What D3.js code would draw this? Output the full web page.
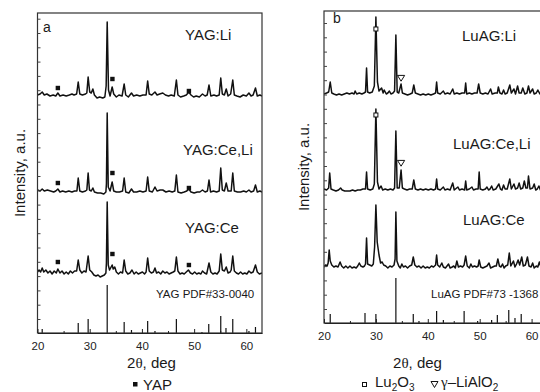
<!DOCTYPE html>
<html>
<head>
<meta charset="utf-8">
<script src="https://cdn.jsdelivr.net/npm/d3@7"></script>
<style>
  body { margin: 0; background: #fff; }
  svg { display: block; font-family: "Liberation Sans", Arial, sans-serif; }
</style>
</head>
<body>
<script>
// ---- data: [2theta, intensity above the trace baseline] ----
const xTicks = [20, 30, 40, 50, 60];
const xMinorTicks = [25, 35, 45, 55];

// panel a: YAG
const yagLi = [[20.0,1],[20.5,2],[20.9,4],[21.3,1],[21.8,2],[22.4,0],[23.0,1],[23.5,0],[23.9,3],[24.3,0],[24.9,1],[25.5,0],[26.1,1],[26.6,2],[27.0,1],[27.5,2],[27.8,14],[28.1,2],[28.6,1],[29.2,2],[29.45,3],[29.7,19],[30.0,4],[30.3,3],[30.6,7],[30.9,1],[31.4,-2],[31.9,-1],[32.5,-2],[32.9,-1],[33.15,10],[33.35,74],[33.6,6],[33.9,0],[34.3,9],[34.6,2],[35.1,-1],[35.6,1],[36.2,0],[36.6,12],[36.9,1],[37.4,-1],[38.0,3],[38.4,0],[39.0,1],[39.6,0],[40.2,1],[40.8,1],[41.1,15],[41.4,2],[41.9,1],[42.5,4],[42.9,1],[43.4,2],[44.0,3],[44.5,1],[45.1,0],[45.6,1],[46.2,0],[46.6,16],[46.9,1],[47.4,-1],[48.0,0],[48.5,1],[49.0,4],[49.4,1],[49.9,-1],[50.4,0],[51.0,-1],[51.6,2],[52.1,0],[52.5,1],[52.85,11],[53.2,0],[53.8,1],[54.3,0],[54.8,1],[55.1,18],[55.4,2],[55.8,1],[56.15,7],[56.5,0],[57.0,2],[57.4,16],[57.7,1],[58.2,0],[58.8,-1],[59.4,1],[60.0,0],[60.5,3],[60.9,0],[61.3,1],[61.75,8],[62.1,0],[62.6,1],[63.0,0]];
const yagCeLi = [[20.0,2],[20.5,1],[20.9,3],[21.3,1],[21.9,2],[22.5,1],[23.1,0],[23.5,1],[23.9,3],[24.3,0],[24.8,1],[25.4,0],[26.0,1],[26.6,0],[27.1,1],[27.55,1],[27.8,14],[28.1,1],[28.6,0],[29.2,1],[29.45,2],[29.7,19],[29.95,2],[30.3,1],[30.6,4],[30.9,0],[31.5,-1],[32.1,-1],[32.7,-2],[33.1,0],[33.2,8],[33.35,79],[33.55,5],[33.9,1],[34.3,10],[34.6,1],[35.1,0],[35.7,0],[36.3,1],[36.6,14],[36.9,0],[37.5,-1],[38.0,3],[38.4,0],[39.0,0],[39.6,1],[40.2,0],[40.8,1],[41.1,15],[41.4,1],[42.0,0],[42.5,5],[42.9,1],[43.5,2],[44.0,2],[44.6,0],[45.2,1],[45.8,0],[46.3,1],[46.6,17],[46.9,0],[47.5,-1],[48.1,0],[48.6,1],[49.0,3],[49.4,0],[50.0,-1],[50.6,0],[51.1,0],[51.6,2],[52.1,0],[52.55,1],[52.85,12],[53.15,0],[53.7,1],[54.3,0],[54.8,1],[55.1,24],[55.4,2],[55.8,1],[56.15,9],[56.5,1],[57.1,1],[57.4,19],[57.7,1],[58.3,0],[58.9,0],[59.5,1],[60.0,0],[60.5,2],[60.9,0],[61.4,1],[61.75,7],[62.1,0],[62.6,1],[63.0,0]];
const yagCe = [[20.0,1],[20.3,3],[20.6,1],[20.9,5],[21.2,1],[21.6,3],[22.0,0],[22.4,2],[22.8,-1],[23.2,2],[23.6,0],[23.9,4],[24.3,0],[24.7,2],[25.1,-1],[25.5,1],[25.9,-1],[26.3,2],[26.7,0],[27.1,2],[27.5,2],[27.8,13],[28.1,3],[28.5,0],[28.9,2],[29.3,1],[29.7,17],[30.0,3],[30.4,1],[30.8,-2],[31.2,-3],[31.6,-2],[32.0,-4],[32.4,-3],[32.8,-2],[33.1,0],[33.2,10],[33.35,71],[33.55,8],[33.8,3],[34.3,8],[34.5,4],[34.8,6],[35.1,1],[35.5,-1],[35.9,1],[36.3,0],[36.6,13],[36.9,2],[37.3,-1],[37.7,0],[38.1,3],[38.5,-1],[38.9,1],[39.3,-1],[39.7,0],[40.1,1],[40.5,-1],[40.8,1],[41.1,15],[41.4,2],[41.8,0],[42.2,1],[42.5,5],[42.8,0],[43.2,1],[43.6,-1],[44.0,2],[44.4,0],[44.8,1],[45.2,-1],[45.6,0],[46.0,1],[46.3,2],[46.6,16],[46.9,2],[47.3,-1],[47.7,0],[48.1,-1],[48.5,1],[48.9,3],[49.3,0],[49.7,-1],[50.1,1],[50.5,-1],[50.9,0],[51.3,-1],[51.6,2],[52.0,0],[52.4,-1],[52.85,10],[53.2,1],[53.6,-1],[54.0,0],[54.4,-1],[54.8,2],[55.1,19],[55.4,3],[55.8,2],[56.15,6],[56.5,0],[56.9,1],[57.1,3],[57.4,17],[57.7,2],[58.1,0],[58.5,-1],[58.9,1],[59.3,-1],[59.7,0],[60.1,-1],[60.5,2],[60.9,0],[61.3,1],[61.75,8],[62.1,1],[62.5,-1],[63.0,0]];
const yagPdf = [[20.9,4],[27.8,10],[29.7,14],[33.35,48],[36.6,11],[38.0,3],[41.1,12],[42.5,2],[46.6,14],[51.5,1],[52.8,9],[55.1,17],[56.1,5],[57.4,14],[60.5,2],[61.75,6]];
// YAP marker positions (filled squares)
const yagLiYap = [[23.9,8],[34.35,17],[49.0,5]];
const yagCeLiYap = [[23.9,9],[34.35,19],[49.0,4]];
const yagCeYap = [[23.9,11],[34.35,19],[49.0,8]];

// panel b: LuAG
const luagLi = [[20.0,0],[20.5,1],[20.9,2],[21.2,12],[21.5,1],[21.9,0],[22.4,-1],[22.9,0],[23.4,-1],[23.9,0],[24.4,1],[24.9,0],[25.4,1],[25.8,0],[26.0,3],[26.3,0],[26.8,1],[27.3,0],[27.7,1],[28.0,2],[28.2,26],[28.4,2],[28.8,1],[29.3,2],[29.7,8],[30.0,77],[30.3,12],[30.6,3],[31.1,6],[31.4,1],[31.6,4],[32.0,0],[32.3,1],[32.6,3],[32.9,0],[33.3,1],[33.6,3],[33.85,59],[34.1,2],[34.4,1],[34.85,10],[35.1,1],[35.6,0],[36.1,-1],[36.6,0],[37.0,1],[37.3,9],[37.6,1],[38.1,0],[38.6,-1],[39.1,0],[39.6,-1],[40.1,0],[40.6,-1],[41.1,0],[41.5,1],[41.7,12],[41.9,1],[42.4,0],[43.0,3],[43.3,0],[43.8,1],[44.3,0],[44.8,5],[45.1,0],[45.6,1],[46.1,0],[46.6,1],[47.1,1],[47.3,11],[47.5,0],[48.0,1],[48.5,0],[49.0,1],[49.5,1],[49.8,10],[50.1,1],[50.6,0],[51.1,1],[51.6,0],[52.1,5],[52.4,0],[53.0,1],[53.4,1],[53.6,7],[53.9,1],[54.3,0],[54.6,4],[54.9,0],[55.3,1],[55.8,9],[56.1,1],[56.6,5],[56.9,0],[57.3,8],[57.6,1],[58.0,1],[58.3,6],[58.7,0],[59.1,1],[59.4,8],[59.7,1],[60.2,5],[60.5,0],[60.9,1],[61.2,4],[61.6,0],[62.0,1],[62.3,6],[62.6,0],[63.2,1]];
const luagCeLi = [[20.0,1],[20.5,0],[20.9,2],[21.1,17],[21.35,1],[21.8,0],[22.3,-1],[22.8,0],[23.2,2],[23.5,0],[24.0,-1],[24.5,-1],[25.0,-1],[25.5,0],[26.0,-1],[26.5,0],[27.0,0],[27.5,1],[28.0,1],[28.2,18],[28.4,1],[28.9,0],[29.4,1],[29.7,6],[30.0,81],[30.3,8],[30.6,1],[31.0,4],[31.3,0],[31.8,1],[32.3,0],[32.8,1],[33.3,0],[33.6,2],[33.85,59],[34.1,2],[34.5,2],[34.85,20],[35.1,2],[35.5,1],[36.0,0],[36.5,1],[37.0,1],[37.3,10],[37.6,1],[38.1,0],[38.6,1],[39.1,0],[39.6,1],[40.1,0],[40.6,1],[41.1,0],[41.5,1],[41.7,11],[41.9,1],[42.4,0],[43.0,3],[43.3,0],[43.8,1],[44.3,0],[44.8,7],[45.1,0],[45.8,3],[46.1,0],[46.6,1],[47.1,0],[47.3,9],[47.5,0],[48.0,1],[48.5,3],[48.8,0],[49.3,1],[49.7,1],[49.9,18],[50.1,1],[50.6,0],[51.1,1],[51.4,3],[51.7,0],[52.0,1],[52.3,4],[52.6,0],[53.1,1],[53.7,6],[54.0,1],[54.3,0],[54.6,5],[54.9,1],[55.3,1],[55.8,11],[56.1,1],[56.6,6],[56.9,1],[57.3,2],[57.6,7],[57.9,1],[58.3,2],[58.6,9],[58.9,2],[59.2,2],[59.4,14],[59.7,1],[60.2,2],[60.5,6],[60.8,0],[61.1,1],[61.4,4],[61.7,0],[62.1,1],[62.4,5],[62.7,0],[63.2,1]];
const luagCe = [[20.0,0],[20.3,2],[20.6,1],[20.8,4],[21.0,17],[21.2,6],[21.5,2],[21.9,0],[22.3,1],[22.7,0],[23.1,5],[23.4,1],[23.8,-1],[24.2,1],[24.6,-1],[25.0,1],[25.4,-1],[25.8,0],[26.2,-1],[26.5,1],[26.8,4],[27.1,1],[27.5,0],[27.8,1],[28.0,3],[28.2,29],[28.4,3],[28.8,2],[29.2,1],[29.5,3],[29.75,20],[30.0,62],[30.25,25],[30.6,12],[30.9,4],[31.2,5],[31.5,2],[31.9,1],[32.3,-1],[32.7,1],[33.1,0],[33.5,2],[33.7,8],[33.85,55],[34.05,6],[34.4,1],[34.7,-1],[35.0,3],[35.3,0],[35.7,1],[36.1,-1],[36.5,1],[36.9,2],[37.2,10],[37.5,2],[37.9,0],[38.3,1],[38.7,-1],[39.1,1],[39.5,-1],[39.9,0],[40.3,-1],[40.7,1],[41.1,0],[41.5,2],[41.7,12],[41.9,2],[42.3,0],[42.7,4],[43.0,0],[43.4,-1],[43.7,1],[44.0,3],[44.3,-1],[44.7,0],[45.0,1],[45.3,-1],[45.6,6],[45.9,0],[46.3,1],[46.7,0],[47.0,2],[47.3,11],[47.6,1],[48.0,-1],[48.3,3],[48.6,0],[49.0,1],[49.4,0],[49.7,1],[49.9,7],[50.2,0],[50.6,-1],[51.0,0],[51.4,1],[51.8,4],[52.1,-1],[52.5,0],[52.9,1],[53.2,1],[53.5,8],[53.8,1],[54.1,0],[54.4,3],[54.7,-1],[55.0,1],[55.4,2],[55.7,14],[56.0,1],[56.2,3],[56.5,6],[56.8,0],[57.1,3],[57.4,7],[57.7,2],[58.1,10],[58.4,1],[58.8,2],[59.2,10],[59.5,1],[59.9,0],[60.2,4],[60.5,-1],[60.9,1],[61.2,0],[61.5,5],[61.8,0],[62.2,1],[62.5,4],[62.8,0],[63.2,1]];
const luagPdf = [[21.2,9],[27.9,10],[30.0,9],[33.85,45],[37.2,9],[38.3,2],[41.7,12],[43.0,3],[47.0,12],[49.6,2],[52.3,3],[53.4,8],[55.6,13],[56.8,5],[58.0,9]];
// Lu2O3 (open square) and gamma-LiAlO2 (open triangle) markers
const luagLiLu2o3 = [[30.0,65]];
const luagLiLialo2 = [[34.85,16]];
const luagCeLiLu2o3 = [[30.0,75]];
const luagCeLiLialo2 = [[34.85,27]];

const svg = d3.select('body').append('svg')
  .attr('width', 540)
  .attr('height', 392);

function drawPanel(p) {
  const x = d3.scaleLinear().domain(p.xDomain).range([p.left, p.right]);
  const y = d3.scaleLinear().domain(p.yDomain).range([p.bottom, p.top]);
  const g = svg.append('g');

  const clipId = 'clip-' + p.name;
  g.append('clipPath').attr('id', clipId)
    .append('rect')
    .attr('x', p.left).attr('y', p.top)
    .attr('width', p.right - p.left).attr('height', p.bottom - p.top);

  const plot = g.append('g').attr('clip-path', `url(#${clipId})`);

  // diffraction traces
  const line = d3.line();
  p.traces.forEach(t => {
    line.x(d => x(d[0])).y(d => y(d[1] + t.offset));
    plot.append('path')
      .datum(t.points)
      .attr('d', line)
      .attr('fill', 'none')
      .attr('stroke', '#111')
      .attr('stroke-width', 1.5)
      .attr('stroke-linejoin', 'round');
  });

  // reference pattern sticks
  plot.selectAll('line.stick')
    .data(p.sticks)
    .enter()
    .append('line')
    .attr('class', 'stick')
    .attr('x1', d => x(d[0])).attr('x2', d => x(d[0]))
    .attr('y1', y(0)).attr('y2', d => y(d[1]))
    .attr('stroke', '#111')
    .attr('stroke-width', 1.2);

  // phase markers
  p.traces.forEach(t => {
    (t.filledSq || []).forEach(d => {
      plot.append('rect')
        .attr('x', x(d[0]) - 2.2).attr('y', y(d[1] + t.offset) - 2.2)
        .attr('width', 4.4).attr('height', 4.4)
        .attr('fill', '#111');
    });
    (t.openSq || []).forEach(d => {
      plot.append('rect')
        .attr('x', x(d[0]) - 2).attr('y', y(d[1] + t.offset) - 2)
        .attr('width', 4).attr('height', 4)
        .attr('fill', '#fff').attr('stroke', '#111').attr('stroke-width', 1);
    });
    (t.openTri || []).forEach(d => {
      const cx = x(d[0]), cy = y(d[1] + t.offset);
      plot.append('path')
        .attr('d', `M${cx - 3.6},${cy - 2.6}L${cx + 3.6},${cy - 2.6}L${cx},${cy + 3.2}Z`)
        .attr('fill', '#fff').attr('stroke', '#111').attr('stroke-width', 1);
    });
  });

  // frame
  g.append('rect')
    .attr('x', p.left).attr('y', p.top)
    .attr('width', p.right - p.left).attr('height', p.bottom - p.top)
    .attr('fill', 'none').attr('stroke', '#333').attr('stroke-width', 1.2);

  // x axis, ticks pointing inward
  const xAxis = g.append('g')
    .attr('transform', `translate(0,${p.bottom})`)
    .call(d3.axisBottom(x).tickValues(xTicks).tickSizeInner(-4).tickSizeOuter(0).tickPadding(9));
  xAxis.select('.domain').attr('stroke', '#222').attr('stroke-width', 1.2);
  xAxis.selectAll('.tick line').attr('stroke', '#222');
  xAxis.selectAll('.tick text')
    .attr('font-family', '"Liberation Sans", Arial, sans-serif')
    .attr('font-size', 11.5).attr('fill', '#222');

  const xMinor = g.append('g')
    .attr('transform', `translate(0,${p.bottom})`)
    .call(d3.axisBottom(x).tickValues(xMinorTicks).tickSizeInner(-2).tickSizeOuter(0).tickFormat(''));
  xMinor.select('.domain').remove();
  xMinor.selectAll('.tick line').attr('stroke', '#222');

  // y axis: unlabelled inward ticks
  const yAxis = g.append('g')
    .attr('transform', `translate(${p.left},0)`)
    .call(d3.axisLeft(y).tickValues(d3.range(p.yDomain[0] + 14, p.yDomain[1], 14.3)).tickSizeInner(-3).tickSizeOuter(0).tickFormat(''));
  yAxis.select('.domain').remove();
  yAxis.selectAll('.tick line').attr('stroke', '#444');

  // texts
  p.texts.forEach(t => {
    g.append('text')
      .attr('x', t.x).attr('y', t.y)
      .attr('font-size', t.size)
      .attr('fill', '#1a1a1a')
      .text(t.s);
  });

  // x title: 2θ, deg
  const xt = g.append('text')
    .attr('x', p.xTitleX).attr('y', 368)
    .attr('text-anchor', 'middle')
    .attr('font-size', 15)
    .attr('fill', '#1a1a1a');
  xt.append('tspan').text('2');
  xt.append('tspan').attr('font-family', '"Liberation Serif", "DejaVu Serif", serif').text('θ');
  xt.append('tspan').text(', deg');

  // y title
  g.append('text')
    .attr('transform', `translate(${p.yTitleX},${(p.top + p.bottom) / 2}) rotate(-90)`)
    .attr('text-anchor', 'middle')
    .attr('font-size', 15)
    .attr('fill', '#1a1a1a')
    .text('Intensity, a.u.');

  return g;
}

drawPanel({
  name: 'a', left: 37.5, right: 262, top: 13, bottom: 333,
  xDomain: [20, 63], yDomain: [0, 320],
  traces: [
    { points: yagLi, offset: 237, filledSq: yagLiYap },
    { points: yagCeLi, offset: 141, filledSq: yagCeLiYap },
    { points: yagCe, offset: 60, filledSq: yagCeYap }
  ],
  sticks: yagPdf,
  texts: [
    { s: 'a', x: 43, y: 32, size: 14 },
    { s: 'YAG:Li', x: 185, y: 40, size: 15 },
    { s: 'YAG:Ce,Li', x: 183, y: 155, size: 15 },
    { s: 'YAG:Ce', x: 185, y: 233, size: 15 },
    { s: 'YAG PDF#33-0040', x: 156, y: 298, size: 11.5 }
  ],
  xTitleX: 151.5, yTitleX: 24.5
});

drawPanel({
  name: 'b', left: 324, right: 548.2, top: 11, bottom: 323,
  xDomain: [20, 63.2], yDomain: [0, 312],
  traces: [
    { points: luagLi, offset: 229, openSq: luagLiLu2o3, openTri: luagLiLialo2 },
    { points: luagCeLi, offset: 133, openSq: luagCeLiLu2o3, openTri: luagCeLiLialo2 },
    { points: luagCe, offset: 56 }
  ],
  sticks: luagPdf,
  texts: [
    { s: 'b', x: 333, y: 23, size: 14 },
    { s: 'LuAG:Li', x: 462, y: 41, size: 15 },
    { s: 'LuAG:Ce,Li', x: 453, y: 149, size: 15 },
    { s: 'LuAG:Ce', x: 463, y: 225, size: 15 },
    { s: 'LuAG PDF#73 -1368', x: 431, y: 298, size: 11.5 }
  ],
  xTitleX: 417.5, yTitleX: 309
});

// legend, panel a
svg.append('rect').attr('x', 133).attr('y', 382).attr('width', 4.5).attr('height', 4.5).attr('fill', '#111');
svg.append('text').attr('x', 143).attr('y', 390).attr('font-size', 15).attr('fill', '#1a1a1a').text('YAP');

// legend, panel b
svg.append('rect').attr('x', 362.5).attr('y', 382.5).attr('width', 4).attr('height', 4)
  .attr('fill', '#fff').attr('stroke', '#111').attr('stroke-width', 1);
const lg1 = svg.append('text').attr('x', 375).attr('y', 387).attr('font-size', 15).attr('fill', '#1a1a1a');
lg1.append('tspan').text('Lu');
lg1.append('tspan').attr('font-size', 10).attr('dy', 4).text('2');
lg1.append('tspan').attr('dy', -4).text('O');
lg1.append('tspan').attr('font-size', 10).attr('dy', 4).text('3');

svg.append('path').attr('d', 'M431,381.5L438,381.5L434.5,387.5Z')
  .attr('fill', '#fff').attr('stroke', '#111').attr('stroke-width', 1);
const lg2 = svg.append('text').attr('x', 441).attr('y', 387).attr('font-size', 15).attr('fill', '#1a1a1a');
lg2.append('tspan').attr('font-family', '"Liberation Serif", "DejaVu Serif", serif').text('γ');
lg2.append('tspan').text('–LiAlO');
lg2.append('tspan').attr('font-size', 10).attr('dy', 4).text('2');
</script>
</body>
</html>
